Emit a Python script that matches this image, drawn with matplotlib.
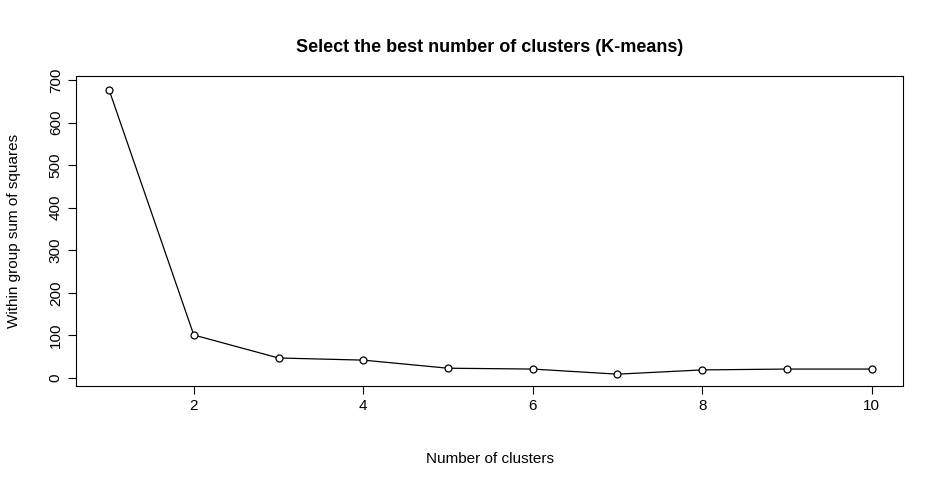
import matplotlib
matplotlib.use("Agg")
import matplotlib.pyplot as plt

k = [1, 2, 3, 4, 5, 6, 7, 8, 9, 10]
wss = [677, 101, 47, 42, 23, 21, 9, 19, 21, 21]
xticks = [2, 4, 6, 8, 10]
yticks = [0, 100, 200, 300, 400, 500, 600, 700]

plt.rcParams['font.family'] = ['Liberation Sans', 'DejaVu Sans']
fig = plt.figure(figsize=(9.43, 4.84), dpi=100)
ax = fig.add_axes([76/943, 1-386/484, (903-76)/943, (386-76)/484])
ax.plot(k, wss, color='black', lw=0.9, marker='o', ms=5, mfc='white', mec='black', mew=0.9)
ax.set_xlim(0.61, 10.37)
ax.set_ylim(-18.8, 709.4)
ax.set_xticks(xticks)
ax.set_yticks(yticks)
ax.set_yticklabels([str(v) for v in yticks], rotation=90, va='center')
ax.tick_params(labelsize=11, length=6)
ax.set_xlabel("Number of clusters", fontsize=11, labelpad=28)
ax.set_ylabel("Within group sum of squares", fontsize=11, labelpad=20)
ax.set_title("Select the best number of clusters (K-means)", fontsize=13, fontweight='bold', pad=17)
fig.savefig("out.png", dpi=100)
